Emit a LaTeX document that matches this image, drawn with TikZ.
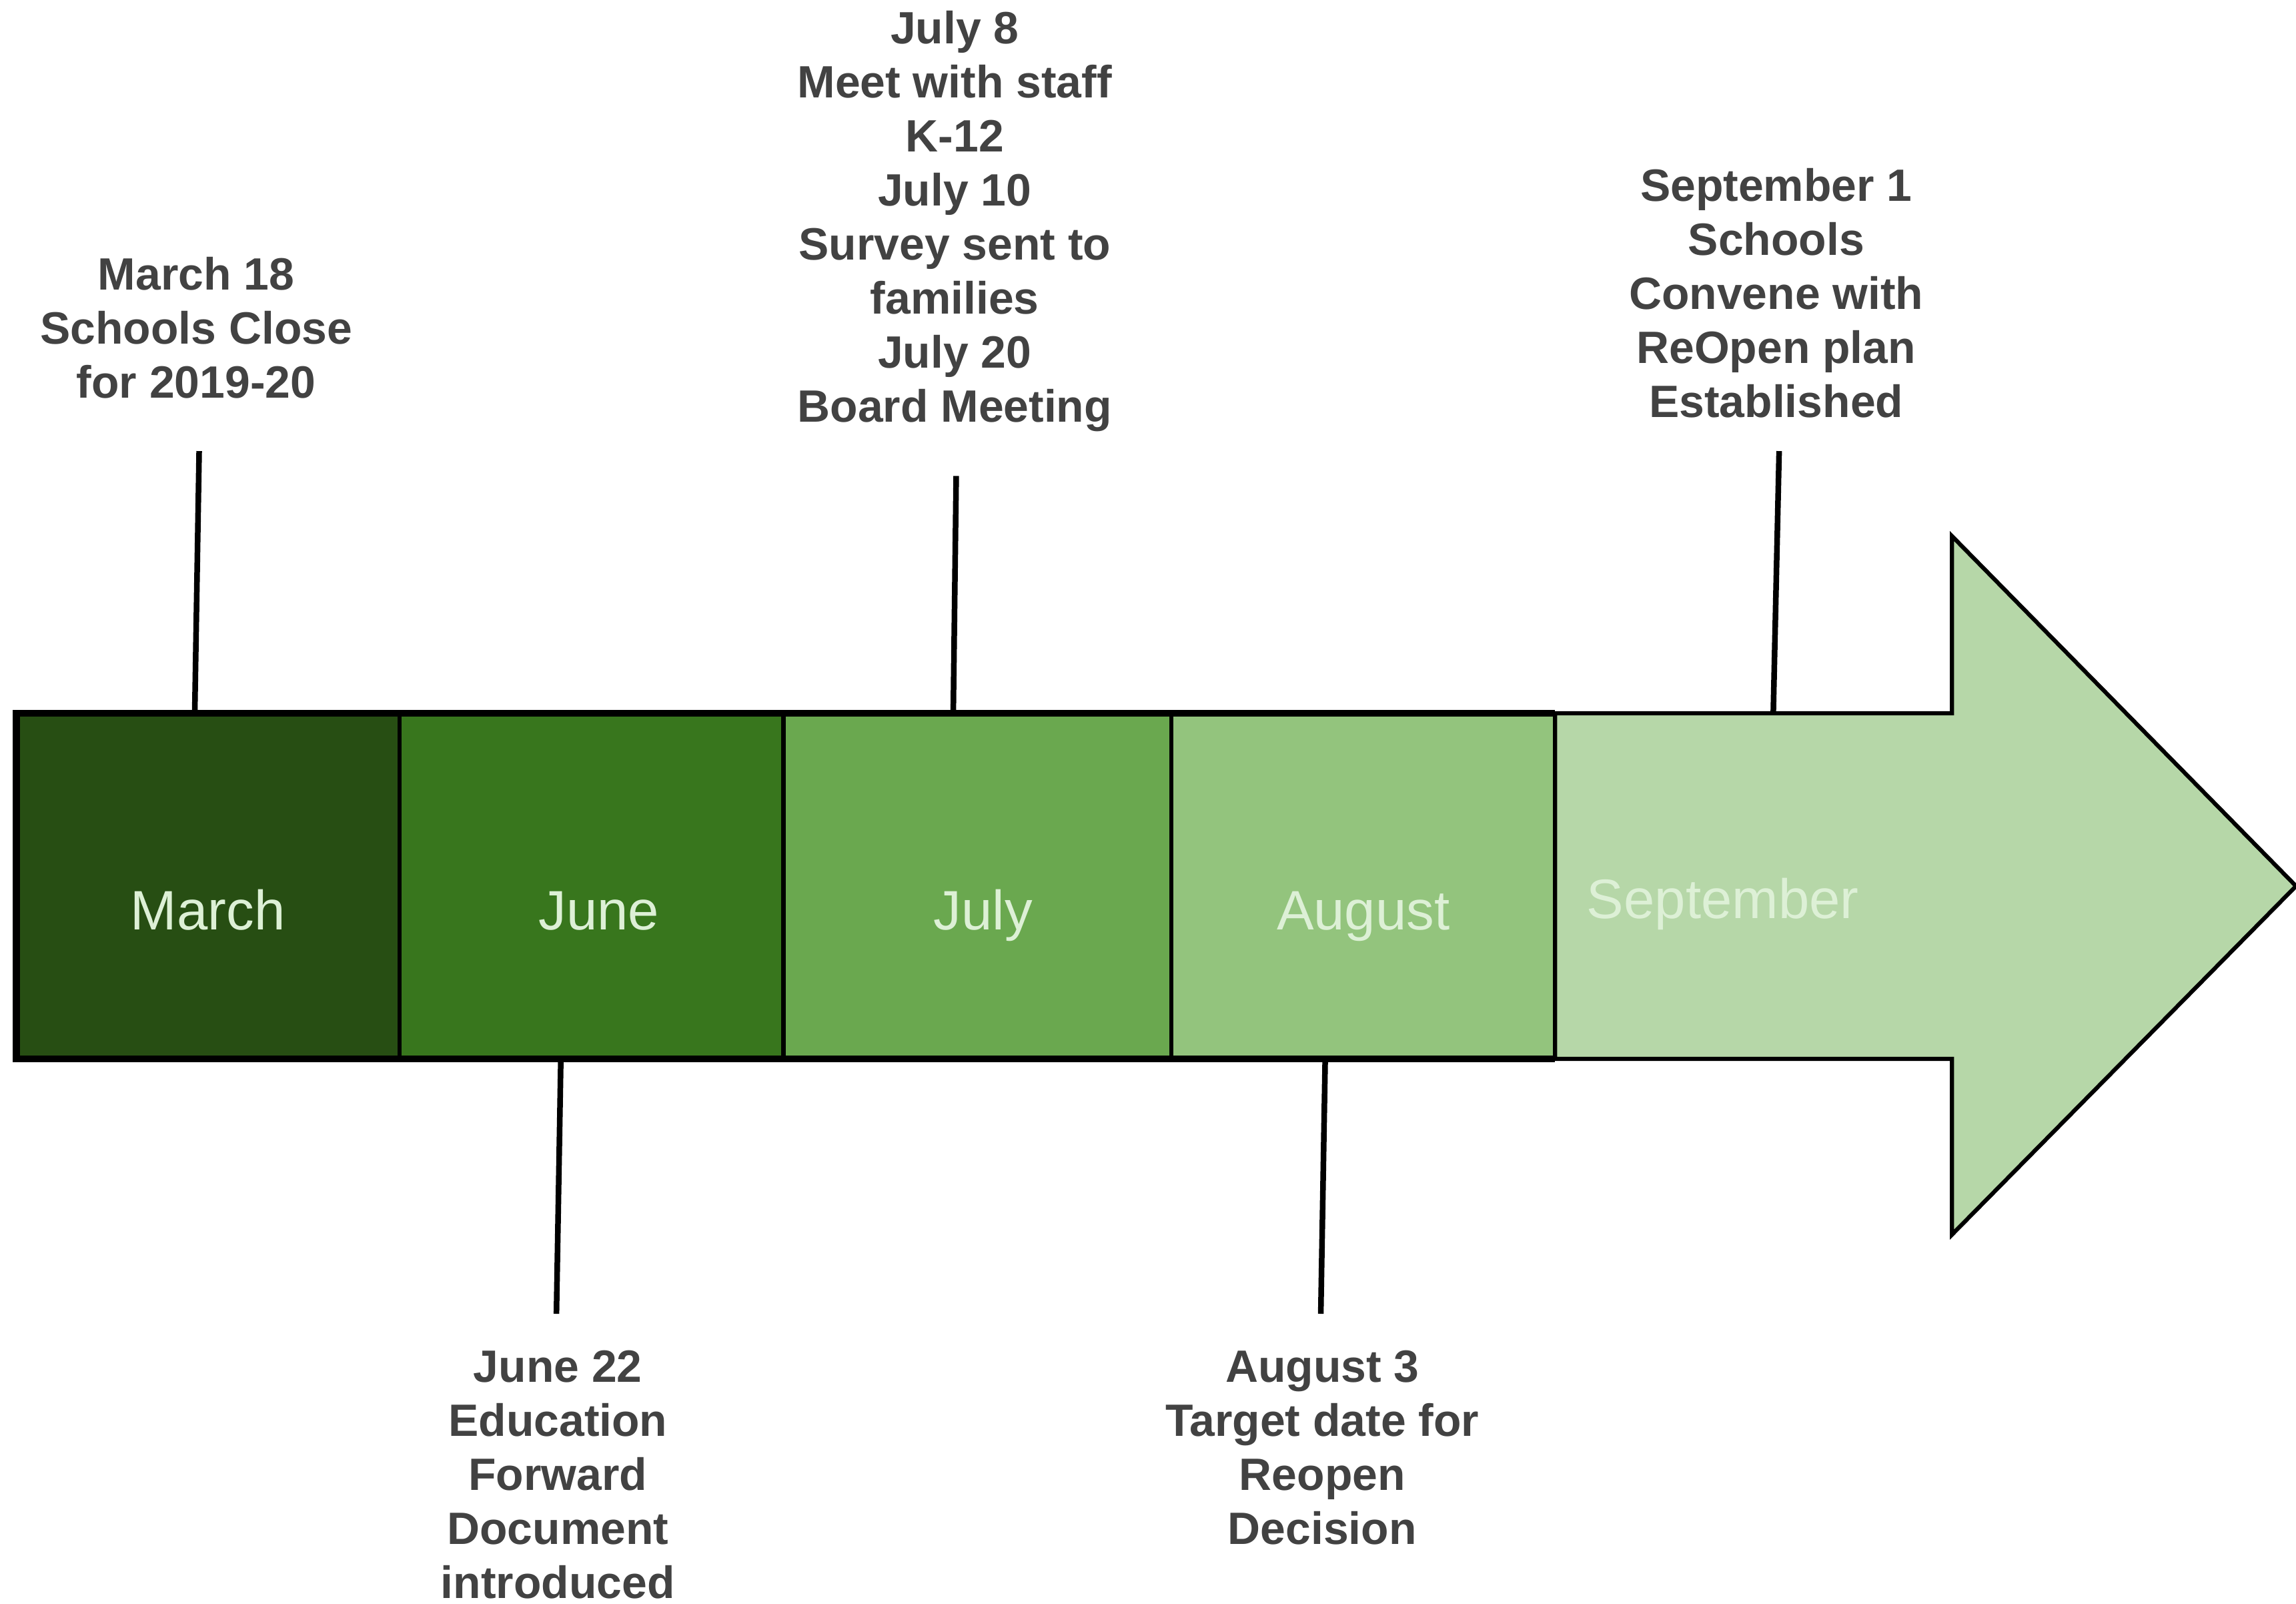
\documentclass[tikz,border=0pt]{standalone}
\usepackage{fontspec}
\setmainfont{Liberation Sans}
\usetikzlibrary{positioning}
\definecolor{marfill}{HTML}{274E13}
\definecolor{junfill}{HTML}{38761D}
\definecolor{julfill}{HTML}{6AA84F}
\definecolor{augfill}{HTML}{93C47D}
\definecolor{sepfill}{HTML}{B6D7A8}
\definecolor{monthtext}{HTML}{DDF0D6}
\definecolor{notetext}{HTML}{424242}
\begin{document}
\begin{tikzpicture}[
    block/.style={rectangle,draw,line width=.8pt,minimum width=2.62cm,minimum height=2.36cm,inner sep=0pt,outer sep=0pt},
    month/.style={text=monthtext,font=\fontsize{10.8}{13}\selectfont,inner sep=0pt,anchor=base},
    note/.style={align=center,text=notetext,font=\fontsize{8.8}{10.5}\selectfont\bfseries,inner sep=0pt},
    tick/.style={line width=1.1pt},
    rim/.style={line width=1.4pt}]
    \useasboundingbox (0,0) rectangle (15.68,10.95);
    \node [block,fill=marfill] (mar) at (1.42,4.90) {};
    \node [block,fill=junfill,right=0pt of mar] (jun) {};
    \node [block,fill=julfill,right=0pt of jun,minimum width=2.65cm] (jul) {};
    \node [block,fill=augfill,right=0pt of jul] (aug) {};
    \draw [fill=sepfill,line width=.8pt] (aug.north east) -- (13.33,6.08) -- (13.33,7.29) -- (15.68,4.90) -- (13.33,2.52) -- (13.33,3.72) -- (aug.south east) -- cycle;
    \draw [rim] (aug.north east) -- (mar.north west) -- (mar.south west) -- (aug.south east);
    \node [month] (mar-lab) at ([yshift=-3mm]mar.center) {March};
    \node [month] (jun-lab) at ([xshift=.5mm,yshift=-3mm]jun.center) {June};
    \node [month] (jul-lab) at ([xshift=.4mm,yshift=-3mm]jul.center) {July};
    \node [month] (aug-lab) at ([yshift=-3mm]aug.center) {August};
    \node [month,anchor=base west] (sep-lab) at (10.83,4.68) {September};
    \node [note] (mar-note) at (1.34,8.71) {March 18\\Schools Close\\for 2019-20};
    \node [note] (jul-note) at (6.52,9.44) {July 8\\Meet with staff\\K-12\\July 10\\Survey sent to\\families\\July 20\\Board Meeting};
    \node [note] (sep-note) at (12.13,8.95) {September 1\\Schools\\Convene with\\ReOpen plan\\Established};
    \node [note] (jun-note) at (3.81,0.88) {June 22\\Education\\Forward\\Document\\introduced};
    \node [note] (aug-note) at (9.03,1.065) {August 3\\Target date for\\Reopen\\Decision};
    \coordinate (mar-tick) at (1.36,7.87);
    \coordinate (jul-tick) at (6.53,7.70);
    \coordinate (sep-tick) at (12.15,7.87);
    \coordinate (sep-base) at (12.11,6.08);
    \coordinate (jun-tick) at (3.80,1.98);
    \coordinate (aug-tick) at (9.02,1.98);
    \draw [tick] (mar-tick) -- ([xshift=-.09cm]mar.north);
    \draw [tick] (jul-tick) -- ([xshift=-.165cm]jul.north);
    \draw [tick] (sep-tick) -- (sep-base);
    \draw [tick] ([xshift=-.21cm]jun.south) -- (jun-tick);
    \draw [tick] ([xshift=-.26cm]aug.south) -- (aug-tick);
\end{tikzpicture}
\end{document}
